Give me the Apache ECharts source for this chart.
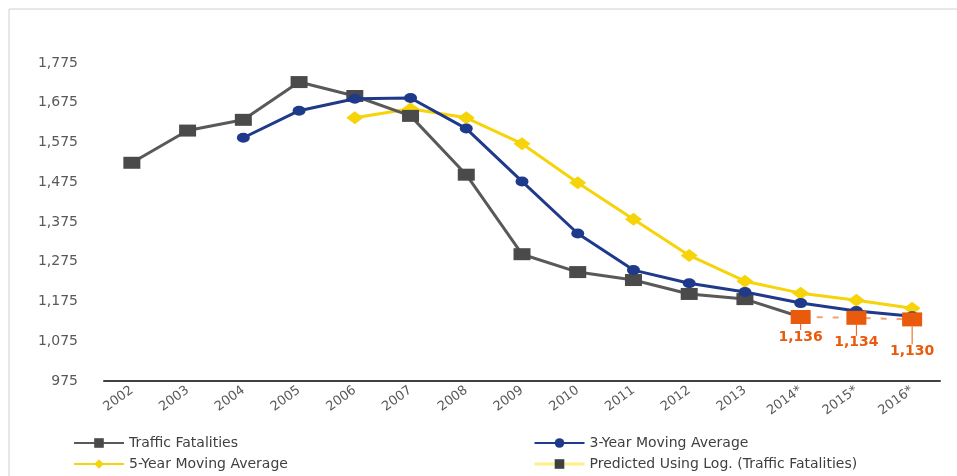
<!DOCTYPE html>
<html>
<head>
<meta charset="utf-8">
<script src="https://cdn.jsdelivr.net/npm/echarts@6/dist/echarts.min.js"></script>
<style>
  html, body { margin: 0; padding: 0; background: #fff; }
  #chart { width: 957px; height: 476px; }
</style>
</head>
<body>
<div id="chart"></div>
<script>
// 年份（类目轴）
const years = ['2002', '2003', '2004', '2005', '2006', '2007', '2008', '2009', '2010',
  '2011', '2012', '2013', '2014*', '2015*', '2016*'];
// 交通死亡人数（2014 连到预测点）
const fatalities = [1524, 1605, 1632, 1727, 1692, 1642, 1494, 1294, 1249, 1229, 1194, 1181, 1136, null, null];
// 三年移动平均
const avg3 = [null, null, 1587, 1655, 1685, 1687, 1610, 1477, 1346, 1254, 1221, 1199, 1171, 1151, 1138];
// 五年移动平均
const avg5 = [null, null, null, null, 1637, 1660, 1637, 1572, 1474, 1382, 1291, 1226, 1196, 1178, 1158];
// 对数预测
const predicted = [null, null, null, null, null, null, null, null, null, null, null, null, 1136, 1134, 1130];
// 纵轴刻度
const yTicks = [975, 1075, 1175, 1275, 1375, 1475, 1575, 1675, 1775];

const GREY = '#595959';
const BLUE = '#1F3A8A';
const YELLOW = '#F7D30A';
const ORANGE = '#E95A0C';

let mychart = echarts.init(document.getElementById('chart'));
mychart.setOption({
  animation: false,
  textStyle: { fontFamily: 'DejaVu Sans' },
  graphic: [
    { type: 'line', shape: { x1: 9, y1: 9, x2: 957, y2: 9 }, style: { stroke: '#d0d0d0', lineWidth: 1 } },
    { type: 'line', shape: { x1: 9, y1: 9, x2: 9, y2: 476 }, style: { stroke: '#d0d0d0', lineWidth: 1 } }
  ],
  grid: { left: 104, right: 17, top: 63, bottom: 95 },
  legend: [
    {
      orient: 'vertical', left: 68, top: 431, itemWidth: 50, itemHeight: 12, itemGap: 7,
      textStyle: { fontSize: 14, color: '#404040' },
      data: ['Traffic Fatalities', '5-Year Moving Average']
    },
    {
      orient: 'vertical', left: 528, top: 431, itemWidth: 50, itemHeight: 12, itemGap: 7,
      textStyle: { fontSize: 14, color: '#404040' },
      data: [
        '3-Year Moving Average',
        {
          name: 'Predicted Using Log. (Traffic Fatalities)',
          itemStyle: { color: '#404040' },
          lineStyle: { color: '#FFF08A', type: 'solid', width: 3 }
        }
      ]
    }
  ],
  xAxis: {
    type: 'category',
    data: years,
    boundaryGap: true,
    axisLine: { lineStyle: { color: '#404040', width: 2 } },
    axisTick: { show: false },
    axisLabel: { rotate: 36, color: '#595959', fontSize: 13, margin: 8, interval: 0 }
  },
  yAxis: {
    type: 'value',
    min: 975,
    max: 1775,
    interval: 25,
    splitLine: { show: false },
    axisLine: { show: false },
    axisTick: { show: false },
    axisLabel: {
      color: '#595959',
      fontSize: 14,
      margin: 26,
      formatter: function (v) {
        return yTicks.indexOf(v) >= 0 ? v.toLocaleString('en-US') : '';
      }
    }
  },
  series: [
    {
      name: 'Traffic Fatalities',
      type: 'line',
      data: fatalities.map((v, i) => i === 12 ? { value: v, symbol: 'none' } : v),
      symbol: 'rect',
      symbolSize: [17, 12],
      lineStyle: { color: GREY, width: 3 },
      itemStyle: { color: '#4a4a4a' },
      z: 2
    },
    {
      name: '3-Year Moving Average',
      type: 'line',
      data: avg3,
      symbol: 'circle',
      symbolSize: [13, 10],
      lineStyle: { color: BLUE, width: 3 },
      itemStyle: { color: BLUE },
      z: 3
    },
    {
      name: '5-Year Moving Average',
      type: 'line',
      data: avg5,
      symbol: 'diamond',
      symbolSize: [17, 13],
      lineStyle: { color: YELLOW, width: 3 },
      itemStyle: { color: YELLOW },
      z: 1
    },
    {
      name: 'Predicted Using Log. (Traffic Fatalities)',
      type: 'line',
      data: predicted,
      symbol: 'rect',
      symbolSize: [20, 14],
      lineStyle: { color: '#F4A070', width: 2, type: [6, 10] },
      itemStyle: { color: ORANGE },
      z: 4,
      label: {
        show: true,
        position: 'bottom',
        distance: 6,
        color: ORANGE,
        fontWeight: 'bold',
        fontSize: 14,
        formatter: p => p.value.toLocaleString('en-US')
      },
      labelLayout: function (params) {
        const offsets = { 12: 0, 13: 5, 14: 12 };
        return { dy: offsets[params.dataIndex] || 0 };
      },
      labelLine: { show: true, lineStyle: { color: ORANGE, width: 1 } }
    }
  ]
});
</script>
</body>
</html>
